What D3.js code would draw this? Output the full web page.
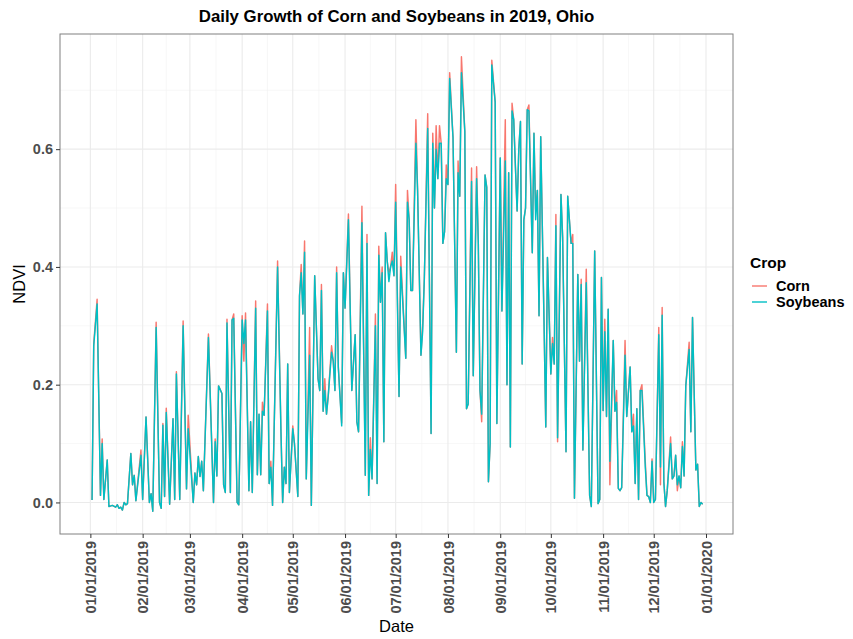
<!DOCTYPE html>
<html>
<head>
<meta charset="utf-8">
<script src="https://cdn.jsdelivr.net/npm/d3@7"></script>
<style>
  body { margin: 0; background: #fff; }
  text { font-family: "Liberation Sans", Arial, sans-serif; }
</style>
</head>
<body>
<div id="chart"></div>
<script>
// day offset from 01/01/2019
const days = [1,2,4,6,7,8,10,11,13,15,16,17,18,19,20,21,22,24,25,26,27,30,31,33,35,36,37,39,41,42,
  43,44,45,47,49,50,51,53,55,57,58,61,62,63,64,65,66,67,70,73,74,75,76,78,79,80,81,83,84,85,
  87,88,90,91,92,94,95,96,98,99,100,101,102,103,105,106,107,108,111,113,114,115,116,117,118,120,121,123,124,125,
  126,127,128,130,131,133,135,136,137,138,139,140,141,143,144,145,146,147,149,150,151,153,155,157,158,159,161,163,164,165,
  166,167,169,170,171,172,173,174,175,176,177,178,179,180,181,183,184,185,187,188,189,190,191,193,194,196,197,198,200,202,
  203,204,205,206,207,208,209,210,211,212,213,215,217,218,219,220,222,223,224,226,227,229,230,231,232,234,235,236,237,238,
  240,241,243,244,246,247,248,249,250,251,252,253,254,255,256,257,258,259,260,262,263,264,265,266,267,269,270,271,273,274,
  275,276,277,279,280,282,283,285,286,287,289,290,291,292,294,296,297,299,301,302,303,304,305,306,307,308,310,311,312,313,
  314,315,317,318,320,321,322,323,324,325,326,327,329,330,331,332,333,334,335,337,338,339,340,341,342,344,345,346,347,348,
  349,350,351,352,353,355,356,357,359,360,361,362,363];

const soyNdvi = [0.004,0.266,0.337,0.012,0.10,0.005,0.072,-0.007,-0.005,-0.008,-0.004,-0.01,-0.008,-0.013,0.0,-0.004,-0.002,0.083,0.03,0.046,0.003,0.08,0.005,0.145,0.0,0.015,-0.015,0.297,0.0,-0.01,
  0.131,0.01,0.153,-0.003,0.142,0.005,0.218,0.005,0.30,0.023,0.125,0.0,0.05,0.03,0.078,0.044,0.07,0.02,0.28,0.0,0.103,0.045,0.198,0.185,0.03,0.017,0.305,0.017,0.31,0.313,
  0.0,-0.004,0.31,0.27,0.31,0.02,0.137,0.017,0.33,0.047,0.15,0.047,0.155,0.148,0.325,0.032,0.06,-0.005,0.40,0.12,0.0,0.06,0.032,0.235,0.017,0.125,0.1,0.01,0.351,0.39,
  0.32,0.425,0.04,0.25,-0.005,0.385,0.21,0.19,0.36,0.155,0.19,0.15,0.18,0.255,0.24,0.19,0.39,0.23,0.13,0.39,0.33,0.48,0.19,0.285,0.137,0.12,0.475,0.046,0.44,0.012,
  0.09,0.04,0.30,0.032,0.42,0.34,0.39,0.103,0.458,0.41,0.375,0.40,0.41,0.385,0.51,0.18,0.40,0.35,0.245,0.51,0.48,0.36,0.36,0.61,0.53,0.25,0.29,0.38,0.635,0.117,
  0.61,0.5,0.60,0.55,0.61,0.61,0.44,0.46,0.55,0.54,0.72,0.62,0.255,0.56,0.52,0.73,0.63,0.159,0.167,0.545,0.215,0.55,0.44,0.19,0.15,0.556,0.535,0.035,0.1,0.743,
  0.68,0.134,0.585,0.325,0.58,0.2,0.56,0.094,0.665,0.65,0.57,0.495,0.6,0.647,0.235,0.48,0.5,0.667,0.665,0.424,0.627,0.48,0.53,0.317,0.621,0.3,0.128,0.416,0.218,0.27,
  0.235,0.47,0.11,0.523,0.45,0.086,0.52,0.44,0.44,0.007,0.387,0.24,0.37,0.089,0.373,0.012,-0.007,0.427,-0.002,0.005,0.382,0.156,0.29,0.146,0.328,0.07,0.275,0.155,0.17,0.024,
  0.02,0.025,0.25,0.146,0.23,0.12,0.13,0.032,0.159,0.005,0.19,0.19,0.06,0.012,0.01,0.0,0.07,0.0,0.005,0.285,0.06,0.318,0.035,-0.007,0.02,0.10,0.04,0.045,0.08,0.03,
  0.045,0.025,0.095,0.045,0.198,0.26,0.12,0.314,0.055,0.065,-0.007,0.0,-0.003];

const cornNdvi = [0.004,0.27,0.345,0.012,0.108,0.005,0.072,-0.007,-0.005,-0.008,-0.004,-0.01,-0.008,-0.013,0.0,-0.004,-0.002,0.083,0.03,0.046,0.003,0.089,0.005,0.145,0.0,0.015,-0.015,0.306,0.0,-0.01,
  0.134,0.01,0.16,-0.003,0.142,0.005,0.222,0.005,0.308,0.023,0.148,0.0,0.05,0.03,0.078,0.044,0.07,0.02,0.286,0.0,0.108,0.045,0.198,0.185,0.03,0.017,0.311,0.017,0.31,0.32,
  0.0,-0.004,0.317,0.24,0.322,0.02,0.137,0.017,0.342,0.047,0.15,0.047,0.17,0.148,0.337,0.032,0.07,-0.005,0.41,0.12,0.0,0.06,0.032,0.235,0.017,0.13,0.1,0.01,0.351,0.404,
  0.32,0.444,0.04,0.297,-0.005,0.385,0.21,0.19,0.37,0.155,0.21,0.15,0.18,0.266,0.24,0.19,0.40,0.23,0.135,0.39,0.33,0.49,0.19,0.285,0.137,0.12,0.503,0.046,0.455,0.012,
  0.11,0.04,0.32,0.032,0.435,0.34,0.40,0.103,0.458,0.41,0.39,0.40,0.425,0.385,0.54,0.18,0.418,0.36,0.245,0.53,0.48,0.36,0.36,0.65,0.53,0.25,0.30,0.38,0.66,0.117,
  0.627,0.5,0.64,0.55,0.64,0.61,0.44,0.46,0.573,0.54,0.73,0.62,0.255,0.58,0.52,0.757,0.63,0.159,0.167,0.568,0.215,0.57,0.44,0.19,0.137,0.556,0.535,0.035,0.1,0.751,
  0.68,0.134,0.585,0.325,0.65,0.2,0.56,0.094,0.678,0.65,0.57,0.495,0.6,0.647,0.235,0.48,0.5,0.667,0.675,0.424,0.627,0.497,0.53,0.317,0.621,0.3,0.128,0.416,0.218,0.28,
  0.235,0.489,0.103,0.523,0.45,0.086,0.52,0.44,0.455,0.007,0.387,0.24,0.379,0.089,0.396,0.012,-0.007,0.427,-0.002,0.005,0.382,0.156,0.311,0.146,0.328,0.03,0.275,0.155,0.19,0.024,
  0.02,0.025,0.275,0.146,0.23,0.12,0.15,0.032,0.159,0.005,0.19,0.2,0.069,0.012,0.01,0.0,0.074,0.0,0.005,0.297,0.03,0.331,0.035,-0.007,0.02,0.111,0.04,0.045,0.08,0.02,
  0.045,0.025,0.103,0.045,0.198,0.272,0.12,0.314,0.055,0.065,-0.007,0.0,-0.003];

const crops = ["Corn", "Soybeans"];
const cropColors = ["#F8766D", "#00BFC4"];
const yTicks = [0.0, 0.2, 0.4, 0.6];
const yMinor = [0.1, 0.3, 0.5, 0.7];

const W = 853, H = 639;
const margin = {top: 34, right: 120, bottom: 105, left: 60};
const pw = W - margin.left - margin.right,
      ph = H - margin.top - margin.bottom;

const start = new Date(2019, 0, 1);
const toDate = d => d3.timeDay.offset(start, d);

const series = crops.map((c, i) => ({
  crop: c,
  color: cropColors[i],
  values: days.map((d, j) => ({date: toDate(d), v: i == 0 ? cornNdvi[j] : soyNdvi[j]}))
}));

// ggplot style 5% expansion
const allV = soyNdvi.concat(cornNdvi);
const [vmin, vmax] = d3.extent(allV);
const vpad = (vmax - vmin) * 0.05;
const dpad = (d3.max(days) - d3.min(days)) * 0.05;

const x = d3.scaleTime()
  .domain([toDate(d3.min(days) - dpad), toDate(d3.max(days) + dpad)])
  .range([0, pw]);
const y = d3.scaleLinear()
  .domain([vmin - vpad, vmax + vpad])
  .range([ph, 0]);

const svg = d3.select("#chart").append("svg")
  .attr("width", W).attr("height", H);

const g = svg.append("g")
  .attr("transform", `translate(${margin.left},${margin.top})`);

const monthTicks = d3.timeMonth.range(new Date(2019, 0, 1), new Date(2020, 0, 2));
const monthMinor = d3.pairs(monthTicks).map(([a, b]) => new Date((+a + +b) / 2));

// grid
g.append("g").selectAll("line").data(yMinor).join("line")
  .attr("x1", 0).attr("x2", pw)
  .attr("y1", d => y(d)).attr("y2", d => y(d))
  .attr("stroke", "#F2F2F2").attr("stroke-width", 0.6);
g.append("g").selectAll("line").data(monthMinor).join("line")
  .attr("y1", 0).attr("y2", ph)
  .attr("x1", d => x(d)).attr("x2", d => x(d))
  .attr("stroke", "#F2F2F2").attr("stroke-width", 0.6);
g.append("g").selectAll("line").data(yTicks).join("line")
  .attr("x1", 0).attr("x2", pw)
  .attr("y1", d => y(d)).attr("y2", d => y(d))
  .attr("stroke", "#EBEBEB").attr("stroke-width", 1.1);
g.append("g").selectAll("line").data(monthTicks).join("line")
  .attr("y1", 0).attr("y2", ph)
  .attr("x1", d => x(d)).attr("x2", d => x(d))
  .attr("stroke", "#EBEBEB").attr("stroke-width", 1.1);

// lines
const line = d3.line().x(d => x(d.date)).y(d => y(d.v));
g.append("g").selectAll("path").data(series).join("path")
  .attr("d", d => line(d.values))
  .attr("fill", "none")
  .attr("stroke", d => d.color)
  .attr("stroke-width", 1.45)
  .attr("stroke-linejoin", "round");

// border
g.append("rect")
  .attr("width", pw).attr("height", ph)
  .attr("fill", "none").attr("stroke", "#808080").attr("stroke-width", 1);

// axes
const yAxis = g.append("g")
  .call(d3.axisLeft(y).tickValues(yTicks).tickFormat(d3.format(".1f")).tickSize(4).tickPadding(3));
const xAxis = g.append("g")
  .attr("transform", `translate(0,${ph})`)
  .call(d3.axisBottom(x).tickValues(monthTicks).tickFormat(d3.timeFormat("%m/%d/%Y")).tickSize(4));
[yAxis, xAxis].forEach(a => {
  a.select(".domain").remove();
  a.selectAll(".tick line").attr("stroke", "#333");
  a.selectAll(".tick text")
    .attr("fill", "#4D4D4D")
    .style("font-size", "14.5px")
    .style("font-weight", "bold")
    .style("font-family", "Liberation Sans, Arial, sans-serif");
});
xAxis.selectAll(".tick text")
  .attr("transform", "rotate(-90)")
  .attr("text-anchor", "end")
  .attr("x", -7).attr("y", 0).attr("dy", "0.35em");

// titles
svg.append("text")
  .attr("x", margin.left + pw / 2).attr("y", 22)
  .attr("text-anchor", "middle")
  .style("font-size", "16.8px").style("font-weight", "bold")
  .text("Daily Growth of Corn and Soybeans in 2019, Ohio");
svg.append("text")
  .attr("x", margin.left + pw / 2).attr("y", 632)
  .attr("text-anchor", "middle")
  .style("font-size", "16.5px")
  .text("Date");
svg.append("text")
  .attr("transform", `translate(25,${margin.top + ph / 2}) rotate(-90)`)
  .attr("text-anchor", "middle")
  .style("font-size", "16.5px")
  .text("NDVI");

// legend
const lg = svg.append("g").attr("transform", "translate(750,268)");
lg.append("text").attr("x", 0).attr("y", 0)
  .style("font-size", "15.5px").style("font-weight", "bold").text("Crop");
const item = lg.selectAll(".item").data(series).join("g")
  .attr("transform", (d, i) => `translate(0,${18 + i * 16})`);
item.append("line")
  .attr("x1", 2).attr("x2", 17)
  .attr("stroke", d => d.color).attr("stroke-width", 1.4);
item.append("text")
  .attr("x", 26).attr("dy", "0.35em")
  .style("font-size", "14.5px").style("font-weight", "bold")
  .text(d => d.crop);
</script>
</body>
</html>
